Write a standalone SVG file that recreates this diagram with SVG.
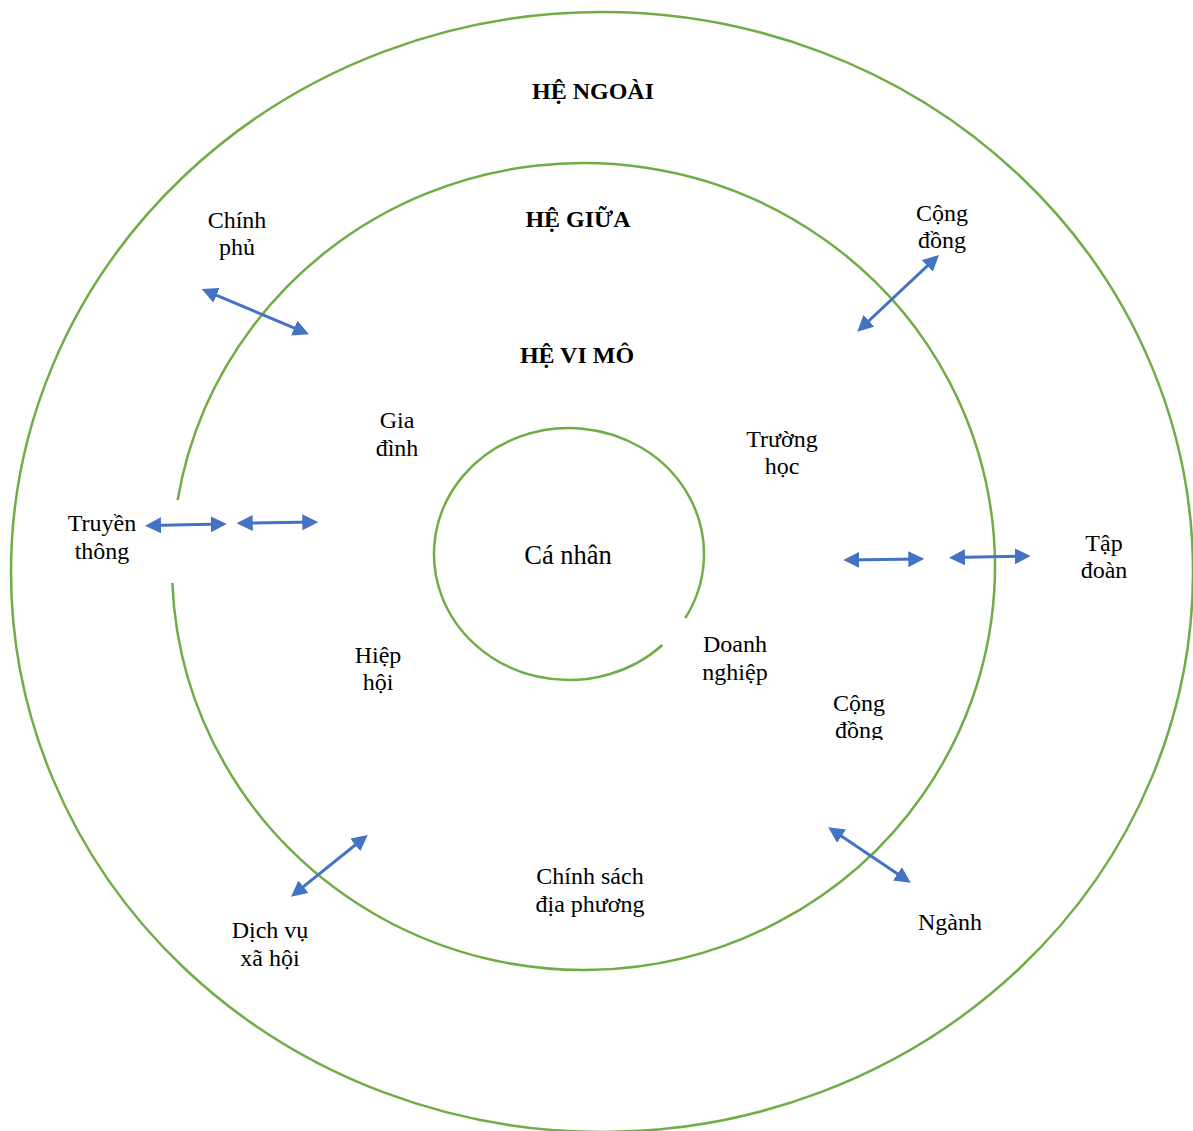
<svg xmlns="http://www.w3.org/2000/svg" width="1193" height="1131" viewBox="0 0 1193 1131">
  <style>
    .ring { fill: none; stroke: #70AD47; stroke-width: 2.5; }
    .link { fill: none; stroke: #4472C4; stroke-width: 3; marker-start: url(#head); marker-end: url(#head); }
    .lbl { font-family: "Liberation Serif", "Times New Roman", serif; font-size: 24px; fill: #000; text-anchor: middle; }
    .title { font-family: "Liberation Serif", "Times New Roman", serif; font-size: 24px; font-weight: bold; fill: #000; text-anchor: middle; }
    .core { font-family: "Liberation Serif", "Times New Roman", serif; font-size: 26.5px; fill: #000; text-anchor: middle; }
  </style>
  <defs>
    <marker id="head" markerUnits="userSpaceOnUse" markerWidth="16" markerHeight="16" viewBox="0 0 16 16" refX="12" refY="8" orient="auto-start-reverse">
      <path d="M0,0 L16,8 L0,16 Z" fill="#4472C4"/>
    </marker>
    <clipPath id="cutLow">
      <rect x="800" y="680" width="120" height="60"/>
    </clipPath>
  </defs>
  <rect width="1193" height="1131" fill="#ffffff"/>

  <!-- rings -->
  <g id="ring-outer">
    <ellipse class="ring" cx="602" cy="572" rx="591" ry="560"/>
  </g>
  <g id="ring-middle">
    <path class="ring" d="M172.35,583 A411.5,403.5 0 1 0 177.63,500"/>
  </g>
  <g id="ring-inner">
    <path class="ring" d="M685.3,618 A135,126 0 1 0 662.4,645"/>
  </g>

  <!-- titles -->
  <g id="title-outer"><text class="title" x="593" y="99">HỆ NGOÀI</text></g>
  <g id="title-middle"><text class="title" x="578" y="227">HỆ GIỮA</text></g>
  <g id="title-micro"><text class="title" x="577" y="363">HỆ VI MÔ</text></g>

  <!-- labels -->
  <g id="node-chinh-phu"><text class="lbl" x="237" y="228">Chính</text><text class="lbl" x="237" y="255">phủ</text></g>
  <g id="node-cong-dong-top"><text class="lbl" x="942" y="221">Cộng</text><text class="lbl" x="942" y="248">đồng</text></g>
  <g id="node-gia-dinh"><text class="lbl" x="397" y="428">Gia</text><text class="lbl" x="397" y="456">đình</text></g>
  <g id="node-truong-hoc"><text class="lbl" x="782" y="447">Trường</text><text class="lbl" x="782" y="474">học</text></g>
  <g id="node-truyen-thong"><text class="lbl" x="102" y="531">Truyền</text><text class="lbl" x="102" y="559">thông</text></g>
  <g id="node-ca-nhan"><text class="core" x="568" y="564">Cá nhân</text></g>
  <g id="node-tap-doan"><text class="lbl" x="1104" y="551">Tập</text><text class="lbl" x="1104" y="578">đoàn</text></g>
  <g id="node-hiep-hoi"><text class="lbl" x="378" y="663">Hiệp</text><text class="lbl" x="378" y="690">hội</text></g>
  <g id="node-doanh-nghiep"><text class="lbl" x="735" y="652">Doanh</text><text class="lbl" x="735" y="680">nghiệp</text></g>
  <g id="node-cong-dong-low" clip-path="url(#cutLow)"><text class="lbl" x="859" y="711">Cộng</text><text class="lbl" x="859" y="738">đồng</text></g>
  <g id="node-chinh-sach"><text class="lbl" x="590" y="884">Chính sách</text><text class="lbl" x="590" y="912">địa phương</text></g>
  <g id="node-dich-vu"><text class="lbl" x="270" y="938">Dịch vụ</text><text class="lbl" x="270" y="966">xã hội</text></g>
  <g id="node-nganh"><text class="lbl" x="950" y="930">Ngành</text></g>

  <!-- two-way connectors -->
  <g id="connectors">
    <line class="link" x1="149" y1="525.6" x2="222.7" y2="524.1"/>
    <line class="link" x1="240.7" y1="523.2" x2="314.3" y2="522.1"/>
    <line class="link" x1="847.3" y1="560" x2="920.3" y2="559"/>
    <line class="link" x1="953" y1="557.6" x2="1026.7" y2="556.1"/>
    <line class="link" x1="936.1" y1="257.7" x2="860.2" y2="329"/>
    <line class="link" x1="205.4" y1="290.6" x2="305.3" y2="332.7"/>
    <line class="link" x1="364.6" y1="837.5" x2="294.1" y2="894.2"/>
    <line class="link" x1="831.6" y1="829.5" x2="907.4" y2="880.5"/>
  </g>
</svg>
